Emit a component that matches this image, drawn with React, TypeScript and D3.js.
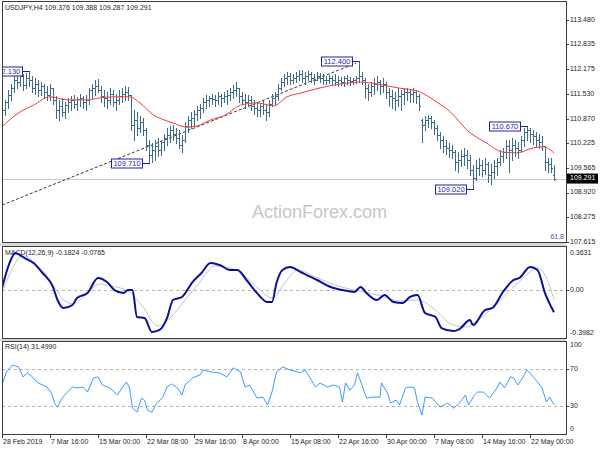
import React from 'react';
import * as d3 from 'd3';

// ---------- DATA (USDJPY H4, one entry per two H4 bars) ----------
const opens = [110.84,111.10,111.31,111.50,111.68,111.89,111.84,112.00,111.76,111.95,111.89,111.68,111.79,111.63,111.74,111.58,111.50,111.68,111.37,111.10,
111.21,111.05,111.23,111.31,111.37,111.26,111.39,111.42,111.31,111.37,111.63,111.68,111.74,111.63,111.47,111.42,111.37,111.52,111.31,111.37,
111.47,111.52,111.58,111.50,110.71,110.84,110.63,110.78,110.57,110.18,109.91,110.05,110.15,110.05,110.26,110.36,110.44,110.57,110.47,110.36,
110.18,110.31,110.68,110.84,110.89,111.00,111.10,111.15,111.31,111.37,111.42,111.39,111.37,111.47,111.42,111.47,111.50,111.58,111.63,111.68,
111.47,111.37,111.31,111.37,111.21,111.15,111.10,111.21,111.10,111.05,111.26,111.42,111.47,111.68,111.84,111.95,112.00,111.89,111.95,112.00,
112.05,111.95,112.00,112.05,111.95,111.89,112.00,111.95,111.89,111.89,111.95,111.89,111.84,111.89,111.84,111.95,111.89,111.87,111.89,111.95,
112.00,111.89,111.68,111.58,111.74,111.79,111.84,111.74,111.79,111.58,111.47,111.42,111.37,111.47,111.52,111.58,111.58,111.52,111.58,111.47,
110.84,110.71,110.84,110.89,110.78,110.63,110.44,110.31,110.15,110.10,110.05,109.99,109.73,109.78,109.89,109.91,109.78,109.52,109.30,109.57,
109.65,109.52,109.67,109.38,109.46,109.62,109.73,109.89,109.99,110.15,110.05,110.18,110.10,110.05,110.31,110.52,110.57,110.47,110.41,110.31,
110.26,110.15,109.73,109.67,109.376];
const highs = [111.23,111.37,111.63,111.79,112.00,112.03,112.11,112.05,112.08,112.13,112.00,111.95,111.89,111.84,111.79,111.74,111.79,111.68,111.47,111.37,
111.42,111.31,111.42,111.47,111.50,111.45,111.52,111.47,111.50,111.68,111.79,111.89,111.92,111.74,111.63,111.58,111.68,111.63,111.52,111.63,
111.68,111.74,111.71,111.50,111.10,111.05,110.94,110.89,110.63,110.31,110.23,110.31,110.36,110.31,110.47,110.63,110.68,110.71,110.63,110.57,
110.44,110.78,110.94,111.05,111.10,111.21,111.26,111.42,111.50,111.47,111.52,111.50,111.58,111.52,111.58,111.63,111.68,111.76,111.84,111.68,
111.58,111.52,111.50,111.47,111.37,111.31,111.26,111.37,111.26,111.37,111.52,111.58,111.79,111.95,112.05,112.11,112.08,112.05,112.11,112.16,
112.16,112.11,112.13,112.11,112.05,112.11,112.08,112.05,112.00,112.03,112.00,112.05,112.00,111.97,112.00,112.03,111.97,111.95,112.00,112.40,
112.11,111.95,111.79,111.84,111.95,112.00,111.89,111.95,111.84,111.68,111.63,111.58,111.68,111.63,111.68,111.68,111.66,111.68,111.63,111.52,
110.86,110.94,110.97,110.94,110.84,110.71,110.52,110.41,110.31,110.23,110.18,110.05,109.99,110.05,110.10,110.05,109.91,109.65,109.78,109.83,
109.78,109.83,109.73,109.67,109.78,109.83,110.05,110.10,110.31,110.31,110.36,110.31,110.26,110.41,110.63,110.67,110.63,110.57,110.52,110.47,
110.41,110.15,109.83,109.83,109.65];
const lows = [110.71,110.97,111.15,111.37,111.58,111.68,111.74,111.63,111.68,111.74,111.58,111.52,111.47,111.50,111.42,111.37,111.37,111.26,110.89,110.84,
110.94,110.89,111.05,111.10,111.15,111.10,111.21,111.15,111.10,111.26,111.42,111.50,111.58,111.31,111.21,111.15,111.26,111.21,111.10,111.26,
111.31,111.37,111.37,110.57,110.31,110.44,110.52,110.44,110.05,109.71,109.73,109.78,109.89,109.91,110.05,110.18,110.26,110.31,110.23,110.10,
109.99,110.26,110.52,110.63,110.71,110.84,110.89,111.05,111.15,111.21,111.26,111.21,111.26,111.21,111.31,111.26,111.37,111.42,111.47,111.31,
111.26,111.15,111.21,111.10,111.00,110.94,110.94,111.00,110.84,110.94,111.21,111.26,111.37,111.63,111.74,111.79,111.79,111.82,111.84,111.89,
111.84,111.79,111.89,111.84,111.79,111.89,111.84,111.79,111.79,111.82,111.79,111.76,111.74,111.76,111.74,111.79,111.76,111.79,111.82,111.84,
111.79,111.42,111.37,111.47,111.52,111.63,111.52,111.58,111.42,111.21,111.15,111.10,111.21,111.10,111.26,111.37,111.31,111.31,111.29,111.10,
110.26,110.57,110.65,110.63,110.47,110.31,110.10,109.99,109.94,109.86,109.83,109.52,109.46,109.62,109.65,109.57,109.38,109.02,109.25,109.38,
109.36,109.41,109.20,109.15,109.30,109.38,109.65,109.73,109.83,109.46,109.78,109.89,109.83,109.99,110.15,110.31,110.26,110.20,110.15,110.10,
110.05,109.52,109.46,109.46,109.25];
const closes = [111.10,111.31,111.50,111.68,111.89,111.84,112.00,111.76,111.95,111.89,111.68,111.79,111.63,111.74,111.58,111.50,111.68,111.37,111.10,111.21,
111.05,111.23,111.31,111.37,111.26,111.39,111.42,111.31,111.37,111.63,111.68,111.74,111.63,111.47,111.42,111.37,111.52,111.31,111.37,111.47,
111.52,111.58,111.50,110.71,110.84,110.63,110.78,110.57,110.18,109.91,110.05,110.15,110.05,110.26,110.36,110.44,110.57,110.47,110.36,110.18,
110.31,110.68,110.84,110.89,111.00,111.10,111.15,111.31,111.37,111.42,111.39,111.37,111.47,111.42,111.47,111.50,111.58,111.63,111.68,111.47,
111.37,111.31,111.37,111.21,111.15,111.10,111.21,111.10,111.05,111.26,111.42,111.47,111.68,111.84,111.95,112.00,111.89,111.95,112.00,112.05,
111.95,112.00,112.05,111.95,111.89,112.00,111.95,111.89,111.89,111.95,111.89,111.84,111.89,111.84,111.95,111.89,111.87,111.89,111.95,112.00,
111.89,111.68,111.58,111.74,111.79,111.84,111.74,111.79,111.58,111.47,111.42,111.37,111.47,111.52,111.58,111.58,111.52,111.58,111.47,111.21,
110.71,110.84,110.89,110.78,110.63,110.44,110.31,110.15,110.10,110.05,109.99,109.73,109.78,109.89,109.91,109.78,109.52,109.30,109.57,109.65,
109.52,109.67,109.38,109.46,109.62,109.73,109.89,109.99,110.15,110.05,110.18,110.10,110.05,110.31,110.52,110.57,110.47,110.41,110.31,110.26,
110.15,109.73,109.67,109.57,109.291];

// moving average [barIndex, price]
const maLine: [number, number][] = [[0,110.65],[5,110.84],[12,111.05],[21,111.23],[32,111.45],[43,111.37],[57,111.37],[65,111.42],[74,111.45],[85,111.45],[92,111.29],[101,110.97],[105,110.89],[114,110.76],[123,110.65],[130,110.68],[139,110.84],[149,110.97],[159,111.23],[170,111.29],[181,111.21],[190,111.45],[199,111.55],[221,111.76],[239,111.84],[254,111.76],[265,111.68],[277,111.60],[290,111.31],[299,111.05],[310,110.57],[323,110.23],[334,109.99],[343,109.97],[354,110.10],[361,110.13],[368,109.97]];

const macdMain: [number, number][] = [[0,0.020],[5,0.229],[9,0.313],[12,0.296],[15,0.271],[21,0.229],[27,0.146],[34,0.028],[37,-0.080],[41,-0.147],[47,-0.122],[50,-0.064],[57,-0.022],[64,0.104],[70,0.070],[75,0.003],[81,-0.022],[84,0.003],[87,0.003],[90,-0.223],[95,-0.231],[100,-0.348],[105,-0.331],[110,-0.231],[114,-0.080],[120,-0.055],[127,0.070],[133,0.146],[139,0.229],[145,0.213],[152,0.171],[157,0.171],[163,0.087],[170,-0.022],[177,-0.097],[180,-0.097],[183,0.062],[187,0.171],[192,0.196],[199,0.154],[210,0.087],[219,0.028],[227,0.003],[235,-0.013],[239,0.028],[243,-0.022],[250,-0.080],[255,-0.039],[261,-0.097],[267,-0.105],[272,-0.055],[277,-0.039],[282,-0.189],[289,-0.223],[293,-0.315],[301,-0.340],[305,-0.323],[312,-0.248],[314,-0.290],[322,-0.164],[327,-0.147],[334,-0.013],[341,0.087],[345,0.104],[352,0.196],[357,0.171],[362,-0.022],[368,-0.1824]];

const macdSignal: [number, number][] = [[0,-0.013],[5,0.129],[13,0.288],[22,0.229],[32,0.087],[40,-0.064],[47,-0.114],[55,-0.047],[65,0.054],[73,0.037],[85,-0.013],[93,-0.122],[104,-0.298],[112,-0.231],[122,-0.080],[132,0.070],[142,0.204],[152,0.188],[162,0.121],[172,0.003],[180,-0.064],[189,0.070],[197,0.171],[209,0.112],[222,0.045],[235,0.003],[245,-0.022],[255,-0.055],[265,-0.089],[277,-0.080],[289,-0.164],[299,-0.281],[309,-0.306],[319,-0.231],[329,-0.122],[339,0.003],[349,0.121],[357,0.188],[363,0.104],[368,-0.0765]];

const rsiLine: [number, number][] = [[0,52.7],[3,66.8],[7,74.3],[11,72.2],[14,61.4],[17,65.7],[21,60.3],[23,55.9],[27,52.7],[30,50.5],[33,44.1],[35,33.2],[37,28.9],[40,38.6],[43,44.1],[47,50.5],[50,49.5],[54,50.5],[57,45.1],[61,60.3],[64,61.4],[67,52.7],[72,49.5],[77,41.9],[80,49.5],[83,55.9],[85,49.5],[87,27.8],[90,23.5],[93,38.6],[95,36.5],[97,25.7],[100,23.5],[103,33.2],[107,38.6],[110,50.5],[113,53.8],[117,49.5],[120,41.9],[122,52.7],[127,60.3],[132,63.5],[134,68.9],[139,66.8],[145,65.7],[150,61.4],[154,71.1],[159,66.8],[162,50.5],[165,52.7],[170,38.6],[174,39.7],[177,31.1],[180,45.1],[183,66.8],[187,72.2],[192,68.9],[197,66.8],[199,65.7],[202,68.9],[205,61.4],[209,50.5],[212,54.9],[217,50.5],[221,52.7],[225,50.5],[227,34.3],[229,54.9],[232,47.3],[235,52.7],[237,65.7],[240,52.7],[243,38.6],[247,39.7],[252,39.7],[253,54.9],[257,44.1],[259,33.2],[263,36.5],[265,31.1],[269,49.5],[272,50.5],[275,49.5],[277,34.3],[280,20.3],[282,39.7],[287,38.6],[292,28.9],[297,33.2],[301,27.8],[305,33.2],[309,41.9],[311,31.1],[315,41.9],[317,45.1],[321,45.1],[325,38.6],[330,49.5],[332,55.9],[335,49.5],[339,61.4],[341,60.3],[344,52.7],[347,60.3],[350,68.9],[353,63.5],[357,55.9],[360,49.5],[363,34.3],[365,39.7],[368,31.5]];

const trendLine: [number, number][] = [[0,108.59],[236,112.34]];

const peakLabels: { i: number; price: number; text: string }[] = [
  { i: 18, price: 112.13, text: '112.130' },
  { i: 98, price: 109.71, text: '109.710' },
  { i: 238, price: 112.40, text: '112.400' },
  { i: 314, price: 109.02, text: '109.020' },
  { i: 350, price: 110.67, text: '110.670' },
];

const priceTicks = [113.48, 112.835, 112.175, 111.53, 110.87, 110.225, 109.565, 108.92, 108.275, 107.615];
const timeTickIdx = [0, 32, 64, 96, 128, 160, 192, 224, 256, 288, 320, 352];
const timeTickLabels = ['28 Feb 2019', '7 Mar 16:00', '15 Mar 00:00', '22 Mar 08:00', '29 Mar 16:00', '8 Apr 00:00', '15 Apr 08:00', '22 Apr 16:00', '30 Apr 00:00', '7 May 08:00', '14 May 16:00', '22 May 00:00'];
const lastPrice = 109.291;
const rsiLevels = [70, 30];

// ---------- LAYOUT ----------
const LEFT = 2, RIGHT = 566;
const MAIN_T = 1, MAIN_B = 243;
const MACD_T = 246, MACD_B = 339;
const RSI_T = 341, RSI_B = 434;
const FONT = "'Liberation Sans', Arial, sans-serif";
const TXT = '#1e1e1e';
const BAR = '#3c6c8a';

export default function App() {
  const x = d3.scaleLinear().domain([0, 368]).range([2, 554]);
  const yP = d3.scaleLinear().domain([107.615, 113.48]).range([242, 20]);
  const yM = d3.scaleLinear().domain([-0.3982, 0.3631]).range([338, 247]);
  const yR = d3.scaleLinear().domain([0, 100]).range([RSI_B, RSI_T]);

  const r = (v: number) => Math.round(v) + 0.5;

  let barPath = '';
  closes.forEach((c, k) => {
    const xs = Math.round(x(2 * k));
    const yh = Math.round(yP(highs[k]));
    const yl = Math.round(yP(lows[k]));
    barPath += `M${xs + 0.5},${yh}V${Math.max(yl + 1, yh + 1)}`;
    barPath += `M${xs - 1},${r(yP(opens[k]))}H${xs}`;
    barPath += `M${xs + 1},${r(yP(c))}H${xs + 2}`;
  });

  const maGen = d3.line<[number, number]>().x(d => x(d[0])).y(d => yP(d[1])).curve(d3.curveMonotoneX);
  const macdGen = d3.line<[number, number]>().x(d => x(d[0])).y(d => yM(d[1])).curve(d3.curveMonotoneX);
  const rsiGen = d3.line<[number, number]>().x(d => x(d[0])).y(d => yR(d[1]));
  const trGen = d3.line<[number, number]>().x(d => x(d[0])).y(d => yP(d[1]));

  const axisText = { fontFamily: FONT, fontSize: 7, fill: TXT } as const;

  return (
    <svg width={600} height={450} style={{ position: 'fixed', left: 0, top: 0, background: '#fff' }}>
      <defs>
        <clipPath id="clipMain"><rect x={LEFT} y={MAIN_T} width={RIGHT - LEFT} height={MAIN_B - MAIN_T} /></clipPath>
        <clipPath id="clipMacd"><rect x={LEFT} y={MACD_T} width={RIGHT - LEFT} height={MACD_B - MACD_T} /></clipPath>
        <clipPath id="clipRsi"><rect x={LEFT} y={RSI_T} width={RIGHT - LEFT} height={RSI_B - RSI_T} /></clipPath>
      </defs>
      <rect x={0} y={0} width={600} height={450} fill="#fff" />

      {/* separators */}
      <rect x={0} y={MAIN_B} width={RIGHT} height={MACD_T - MAIN_B} fill="#d8d8d8" />
      <rect x={0} y={MACD_B} width={RIGHT} height={RSI_T - MACD_B} fill="#d8d8d8" />

      {/* ===== MAIN PANEL ===== */}
      <g clipPath="url(#clipMain)">
        <text x={252} y={218} fontFamily={FONT} fontSize={18} fill="#c6c6c6">ActionForex.com</text>
        <line x1={LEFT} x2={RIGHT} y1={r(yP(lastPrice))} y2={r(yP(lastPrice))} stroke="#c8c8c8" strokeWidth={1} />
        <path d={trGen(trendLine) || ''} fill="none" stroke="#333" strokeWidth={1} strokeDasharray="3,2" />
        <path d={barPath} stroke={BAR} strokeWidth={1} fill="none" shapeRendering="crispEdges" />
        <path d={maGen(maLine) || ''} fill="none" stroke="#f03c3c" strokeWidth={1} />
        {peakLabels.map((p, idx) => {
          const bx = x(p.i);
          const yy = r(yP(p.price));
          const right = Math.round(bx) - 7;
          const w = 31;
          return (
            <g key={idx}>
              <line x1={right} x2={Math.round(bx) + 1} y1={yy} y2={yy} stroke="#22229a" strokeWidth={1} />
              <rect x={right - w + 0.5} y={yy - 4.5} width={w} height={9} fill="#fff" stroke="#22229a" strokeWidth={1} />
              <text x={right - w / 2 + 0.5} y={yy + 0.5} textAnchor="middle" dominantBaseline="middle" fontFamily={FONT} fontSize={7.5} fill="#2a2aa6">{p.text}</text>
            </g>
          );
        })}
        <text x={5} y={8} dominantBaseline="middle" {...axisText}>USDJPY,H4  109.376 109.388 109.287 109.291</text>
        <text x={564} y={237} textAnchor="end" dominantBaseline="middle" fontFamily={FONT} fontSize={7} fill="#3a5a9a">61.8</text>
      </g>

      {/* ===== MACD PANEL ===== */}
      <g clipPath="url(#clipMacd)">
        <text x={5} y={253} dominantBaseline="middle" {...axisText}>MACD(12,26,9) -0.1824 -0.0765</text>
        <line x1={LEFT} x2={RIGHT} y1={r(yM(0))} y2={r(yM(0))} stroke="#b4b4b4" strokeDasharray="3,3" />
        <path d={macdGen(macdSignal) || ''} fill="none" stroke="#c4c4c4" strokeWidth={1} />
        <path d={macdGen(macdMain) || ''} fill="none" stroke="#0c1094" strokeWidth={2} />
      </g>

      {/* ===== RSI PANEL ===== */}
      <g clipPath="url(#clipRsi)">
        <text x={5} y={347} dominantBaseline="middle" {...axisText}>RSI(14) 31.4990</text>
        {rsiLevels.map(l => (
          <line key={l} x1={LEFT} x2={RIGHT} y1={r(yR(l))} y2={r(yR(l))} stroke="#b4b4b4" strokeDasharray="3,3" />
        ))}
        <path d={rsiGen(rsiLine) || ''} fill="none" stroke="#3d9bff" strokeWidth={1} />
      </g>

      {/* frames */}
      <g fill="none" stroke="#3c3c3c" strokeWidth={1} shapeRendering="crispEdges">
        <rect x={LEFT + 0.5} y={MAIN_T + 0.5} width={RIGHT - LEFT} height={MAIN_B - MAIN_T - 1} />
        <rect x={LEFT + 0.5} y={MACD_T + 0.5} width={RIGHT - LEFT} height={MACD_B - MACD_T - 1} />
        <rect x={LEFT + 0.5} y={RSI_T + 0.5} width={RIGHT - LEFT} height={RSI_B - RSI_T} />
      </g>

      {/* right price axis */}
      {priceTicks.map(t => (
        <g key={t}>
          <line x1={RIGHT} x2={RIGHT + 3} y1={r(yP(t))} y2={r(yP(t))} stroke="#3c3c3c" />
          <text x={570} y={yP(t)} dominantBaseline="middle" {...axisText}>{t.toFixed(3)}</text>
        </g>
      ))}
      <rect x={567} y={yP(lastPrice) - 5} width={31} height={10} fill="#000" />
      <text x={570} y={yP(lastPrice)} dominantBaseline="middle" fontFamily={FONT} fontSize={7} fill="#fff">{lastPrice.toFixed(3)}</text>

      {/* MACD axis */}
      <text x={570} y={253} dominantBaseline="middle" {...axisText}>0.3631</text>
      <text x={570} y={yM(0)} dominantBaseline="middle" {...axisText}>0.00</text>
      <text x={570} y={333} dominantBaseline="middle" {...axisText}>-0.3982</text>
      <line x1={RIGHT} x2={RIGHT + 3} y1={r(yM(0))} y2={r(yM(0))} stroke="#3c3c3c" />

      {/* RSI axis */}
      <text x={570} y={345} dominantBaseline="middle" {...axisText}>100</text>
      {rsiLevels.map(l => (
        <g key={l}>
          <line x1={RIGHT} x2={RIGHT + 3} y1={r(yR(l))} y2={r(yR(l))} stroke="#3c3c3c" />
          <text x={570} y={yR(l)} dominantBaseline="middle" {...axisText}>{l}</text>
        </g>
      ))}
      <text x={570} y={429} dominantBaseline="middle" {...axisText}>0</text>

      {/* time axis */}
      {timeTickIdx.map((ti, j) => (
        <g key={ti}>
          <line x1={r(x(ti))} x2={r(x(ti))} y1={RSI_B} y2={RSI_B + 4} stroke="#3c3c3c" />
          <text x={x(ti) + 1} y={442} dominantBaseline="middle" {...axisText}>{timeTickLabels[j]}</text>
        </g>
      ))}
    </svg>
  );
}
